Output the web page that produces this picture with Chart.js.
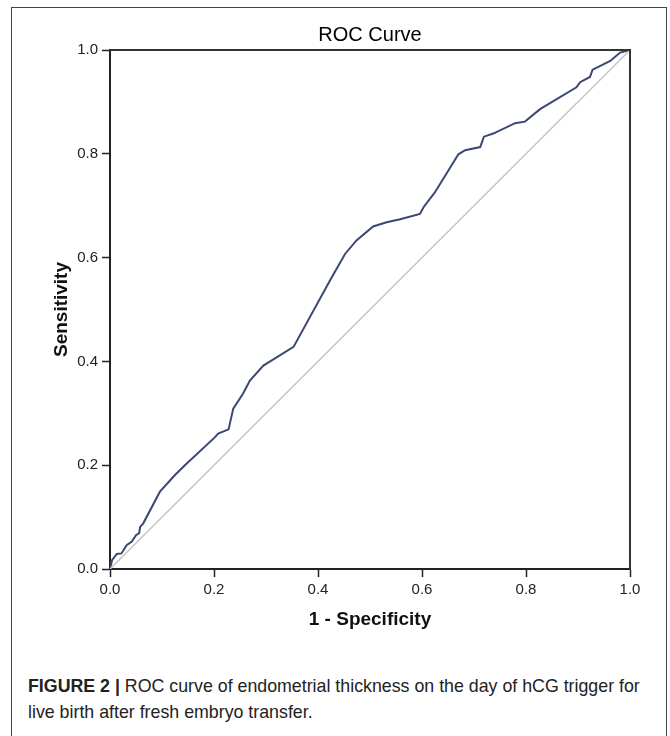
<!DOCTYPE html>
<html>
<head>
<meta charset="utf-8">
<script src="https://cdn.jsdelivr.net/npm/chart.js@4"></script>
<style>
    html, body { margin: 0; padding: 0; background: #fff; }
    body { width: 670px; height: 736px; position: relative; overflow: hidden; font-family: "Liberation Sans", Arial, sans-serif; }
    .frame { position: absolute; left: 11px; top: 7px; width: 656px; height: 760px; border: 1px solid #444; box-sizing: border-box; }
    #wrap { position: absolute; left: 0; top: 0; width: 670px; height: 650px; }
    .caption { position: absolute; left: 28px; top: 673px; width: 636px; font-size: 17.8px; line-height: 26px; color: #222; white-space: nowrap; }
    .caption b { font-weight: bold; }
</style>
</head>
<body>
<div class="frame"></div>
<div id="wrap"><canvas id="roc" width="670" height="650"></canvas></div>
<div class="caption"><b>FIGURE 2 |</b> ROC curve of endometrial thickness on the day of hCG trigger for<br>live birth after fresh embryo transfer.</div>
<script>
// values
const fpr = [0, 0.004, 0.013, 0.022, 0.032, 0.042, 0.050, 0.056, 0.058, 0.064,
    0.096, 0.125, 0.144, 0.202, 0.208, 0.228, 0.237, 0.256, 0.269, 0.295,
    0.353, 0.423, 0.452, 0.474, 0.506, 0.532, 0.558, 0.596, 0.603, 0.625,
    0.670, 0.683, 0.712, 0.719, 0.737, 0.779, 0.798, 0.827, 0.897, 0.904,
    0.923, 0.928, 0.942, 0.962, 0.981, 1];
const tpr = [0, 0.017, 0.029, 0.030, 0.046, 0.053, 0.065, 0.069, 0.081, 0.088,
    0.149, 0.181, 0.200, 0.254, 0.261, 0.269, 0.309, 0.338, 0.363, 0.392,
    0.428, 0.556, 0.607, 0.633, 0.660, 0.668, 0.674, 0.684, 0.697, 0.726,
    0.799, 0.807, 0.813, 0.833, 0.839, 0.859, 0.862, 0.886, 0.928, 0.938,
    0.948, 0.962, 0.969, 0.979, 0.995, 1];
const refX = [0, 1];
const refY = [0, 1];
const tickValues = [0, 0.2, 0.4, 0.6, 0.8, 1.0];

const toPoints = (xs, ys) => xs.map((x, i) => ({ x: x, y: ys[i] }));

// box around the plot area (top and right sides)
const boxPlugin = {
    id: 'box',
    afterDraw(chart) {
        const { ctx, chartArea: a } = chart;
        ctx.save();
        ctx.strokeStyle = '#333';
        ctx.lineWidth = 2;
        ctx.beginPath();
        ctx.moveTo(a.left, a.top);
        ctx.lineTo(a.right, a.top);
        ctx.lineTo(a.right, a.bottom);
        ctx.stroke();
        ctx.restore();
    }
};

const axis = (titleText, titlePadding) => ({
    type: 'linear',
    min: 0,
    max: 1,
    afterBuildTicks: scale => { scale.ticks = tickValues.map(v => ({ value: v })); },
    grid: { drawOnChartArea: false, tickLength: 8, tickColor: '#222', tickWidth: 1.5 },
    border: { color: '#222', width: 2 },
    ticks: {
        color: '#222',
        padding: 4,
        font: { family: '"Liberation Sans", Arial', size: 15 },
        callback: v => Number(v).toFixed(1)
    },
    title: {
        display: true,
        text: titleText,
        color: '#111',
        padding: titlePadding,
        font: { family: '"Liberation Sans", Arial', size: 19, weight: 'bold' }
    }
});

const xAxis = axis('1 - Specificity', { top: 0, bottom: 19 });
xAxis.afterFit = scale => { scale.height = 81; };
const yAxis = axis('Sensitivity', { top: 50, bottom: 0 });
yAxis.afterFit = scale => { scale.width = 110; };

new Chart(document.getElementById('roc'), {
    type: 'scatter',
    data: {
        datasets: [
            {
                data: toPoints(refX, refY),
                showLine: true,
                borderColor: '#c4c4c4',
                borderWidth: 1.5,
                pointRadius: 0
            },
            {
                data: toPoints(fpr, tpr),
                showLine: true,
                borderColor: '#3b4775',
                borderWidth: 2,
                pointRadius: 0
            }
        ]
    },
    options: {
        responsive: false,
        animation: false,
        layout: { padding: { top: 20, left: 0, right: 40, bottom: 0 } },
        plugins: {
            legend: { display: false },
            tooltip: { enabled: false },
            title: {
                display: true,
                text: 'ROC Curve',
                fullSize: false,
                color: '#000',
                padding: { top: 3, bottom: 3 },
                font: { family: '"Liberation Sans", Arial', size: 20, weight: 'normal' }
            }
        },
        scales: { x: xAxis, y: yAxis }
    },
    plugins: [boxPlugin]
});
</script>
</body>
</html>
